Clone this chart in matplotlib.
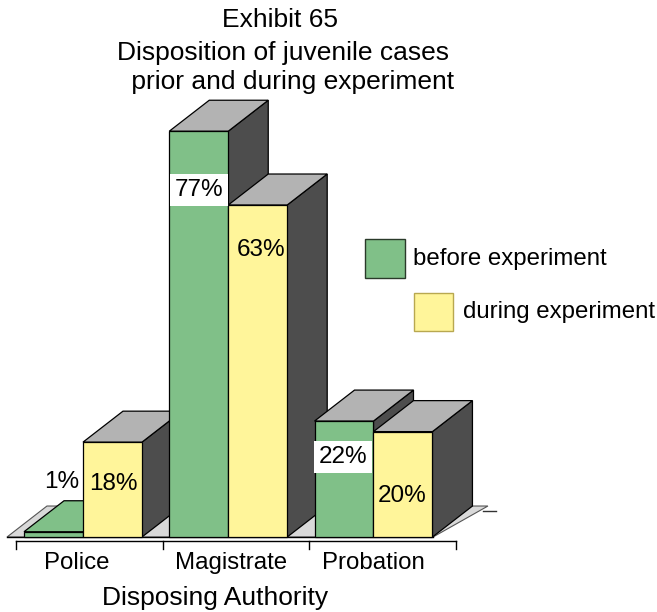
import matplotlib
matplotlib.use("Agg")
import matplotlib.pyplot as plt
from matplotlib.patches import Polygon, Rectangle

plt.rcParams['font.family'] = ['Liberation Sans', 'DejaVu Sans']

# ---- data ----
categories = ["Police", "Magistrate", "Probation"]
before = [1, 77, 22]
during = [18, 63, 20]
series_names = ["before experiment", "during experiment"]
title_lines = ["Exhibit 65", "Disposition of juvenile cases", " prior and during experiment"]
x_title = "Disposing Authority"

# ---- style ----
GREEN = "#80C088"
YELLOW = "#FFF59A"
TOP = "#B3B3B3"
SIDE = "#4D4D4D"
FLOOR = "#D9D9D9"

W, H = 657, 612
fig = plt.figure(figsize=(W / 100, H / 100), dpi=100)
ax = fig.add_axes([0, 0, 1, 1])
# x: one unit per category group; y: percent
ax.set_xlim(-0.5714, 3.952)
ax.set_ylim(-14.23, 101.9)
ax.axis("off")

bw = 0.406      # bar width
ddx = 0.2754    # depth offset (x)
ddy = 5.88      # depth offset (y)


def fx(px):
    return px / W


def fy(py):
    return 1 - py / H


# floor
floor = Polygon([(-0.523, 0), (-0.248, ddy), (2.788, ddy), (2.41, 0)],
                closed=True, fc=FLOOR, ec="#555555", lw=0.8, zorder=1)
ax.add_patch(floor)
ax.plot([-0.523, 2.41], [0, 0], color="black", lw=1.0, zorder=1.5)
ax.plot([2.754, 2.843], [4.93, 4.93], color="#333333", lw=1.0, zorder=1.5)


def bar3d(x0, h, color, z):
    # a nearly flat bar shows its own colour on top
    top_color = color if h < 2 else TOP
    side = Polygon([(x0 + bw, 0), (x0 + bw + ddx, ddy), (x0 + bw + ddx, h + ddy), (x0 + bw, h)],
                   closed=True, fc=SIDE, ec="black", lw=0.9, zorder=z)
    top = Polygon([(x0, h), (x0 + ddx, h + ddy), (x0 + bw + ddx, h + ddy), (x0 + bw, h)],
                  closed=True, fc=top_color, ec="black", lw=0.9, zorder=z)
    front = Rectangle((x0, 0), bw, h, fc=color, ec="black", lw=0.9, zorder=z + 0.1)
    for p in (side, top, front):
        ax.add_patch(p)


z = 2
for i in range(len(categories)):
    bar3d(i - bw, before[i], GREEN, z)
    z += 1
    bar3d(i, during[i], YELLOW, z)
    z += 1

# value labels (offsets from bar centre, in axis units)
before_lbl_pos = [(-0.146, 10.4), (-0.2, 65.8), (-0.21, 15.2)]
during_lbl_pos = [(0.21, 10.0), (0.225, 54.5), (0.2, 7.8)]
boxed_before = [False, True, True]
for i in range(len(categories)):
    dxl, yl = before_lbl_pos[i]
    kw = {}
    if boxed_before[i]:
        kw["bbox"] = dict(boxstyle="square,pad=0.2", fc="white", ec="none")
    ax.text(i + dxl, yl, f"{before[i]}%", ha="center", va="center",
            fontsize=17.5, zorder=50, **kw)
    dxl, yl = during_lbl_pos[i]
    ax.text(i + dxl, yl, f"{during[i]}%", ha="center", va="center",
            fontsize=17.5, zorder=50)

# category axis
ax.plot([-0.461, 2.567], [-0.7, -0.7], color="black", lw=1.0, clip_on=False)
for t in [-0.461, 0.551, 1.556, 2.567]:
    ax.plot([t, t], [-0.7, -2.3], color="black", lw=1.0)
label_px = [77, 231, 373]
for name, px in zip(categories, label_px):
    fig.text(fx(px), fy(563), name, ha="center", va="center", fontsize=17.3)
fig.text(fx(215), fy(598), x_title, ha="center", va="center", fontsize=19)

# title
for line, (px, py) in zip(title_lines, [(280, 20), (283, 53), (289, 82)]):
    fig.text(fx(px), fy(py), line, ha="center", va="center", fontsize=19)

# legend
fig.patches.append(Rectangle((fx(365), fy(278)), fx(40), 39 / H, transform=fig.transFigure,
                             fc=GREEN, ec="#2a3a2a", lw=1.0))
fig.patches.append(Rectangle((fx(414), fy(331)), fx(39), 38 / H, transform=fig.transFigure,
                             fc=YELLOW, ec="#b8a850", lw=1.0))
fig.text(fx(413), fy(259), series_names[0], ha="left", va="center", fontsize=17.3)
fig.text(fx(463), fy(312), series_names[1], ha="left", va="center", fontsize=17.3)

fig.savefig("out.png", dpi=100)
